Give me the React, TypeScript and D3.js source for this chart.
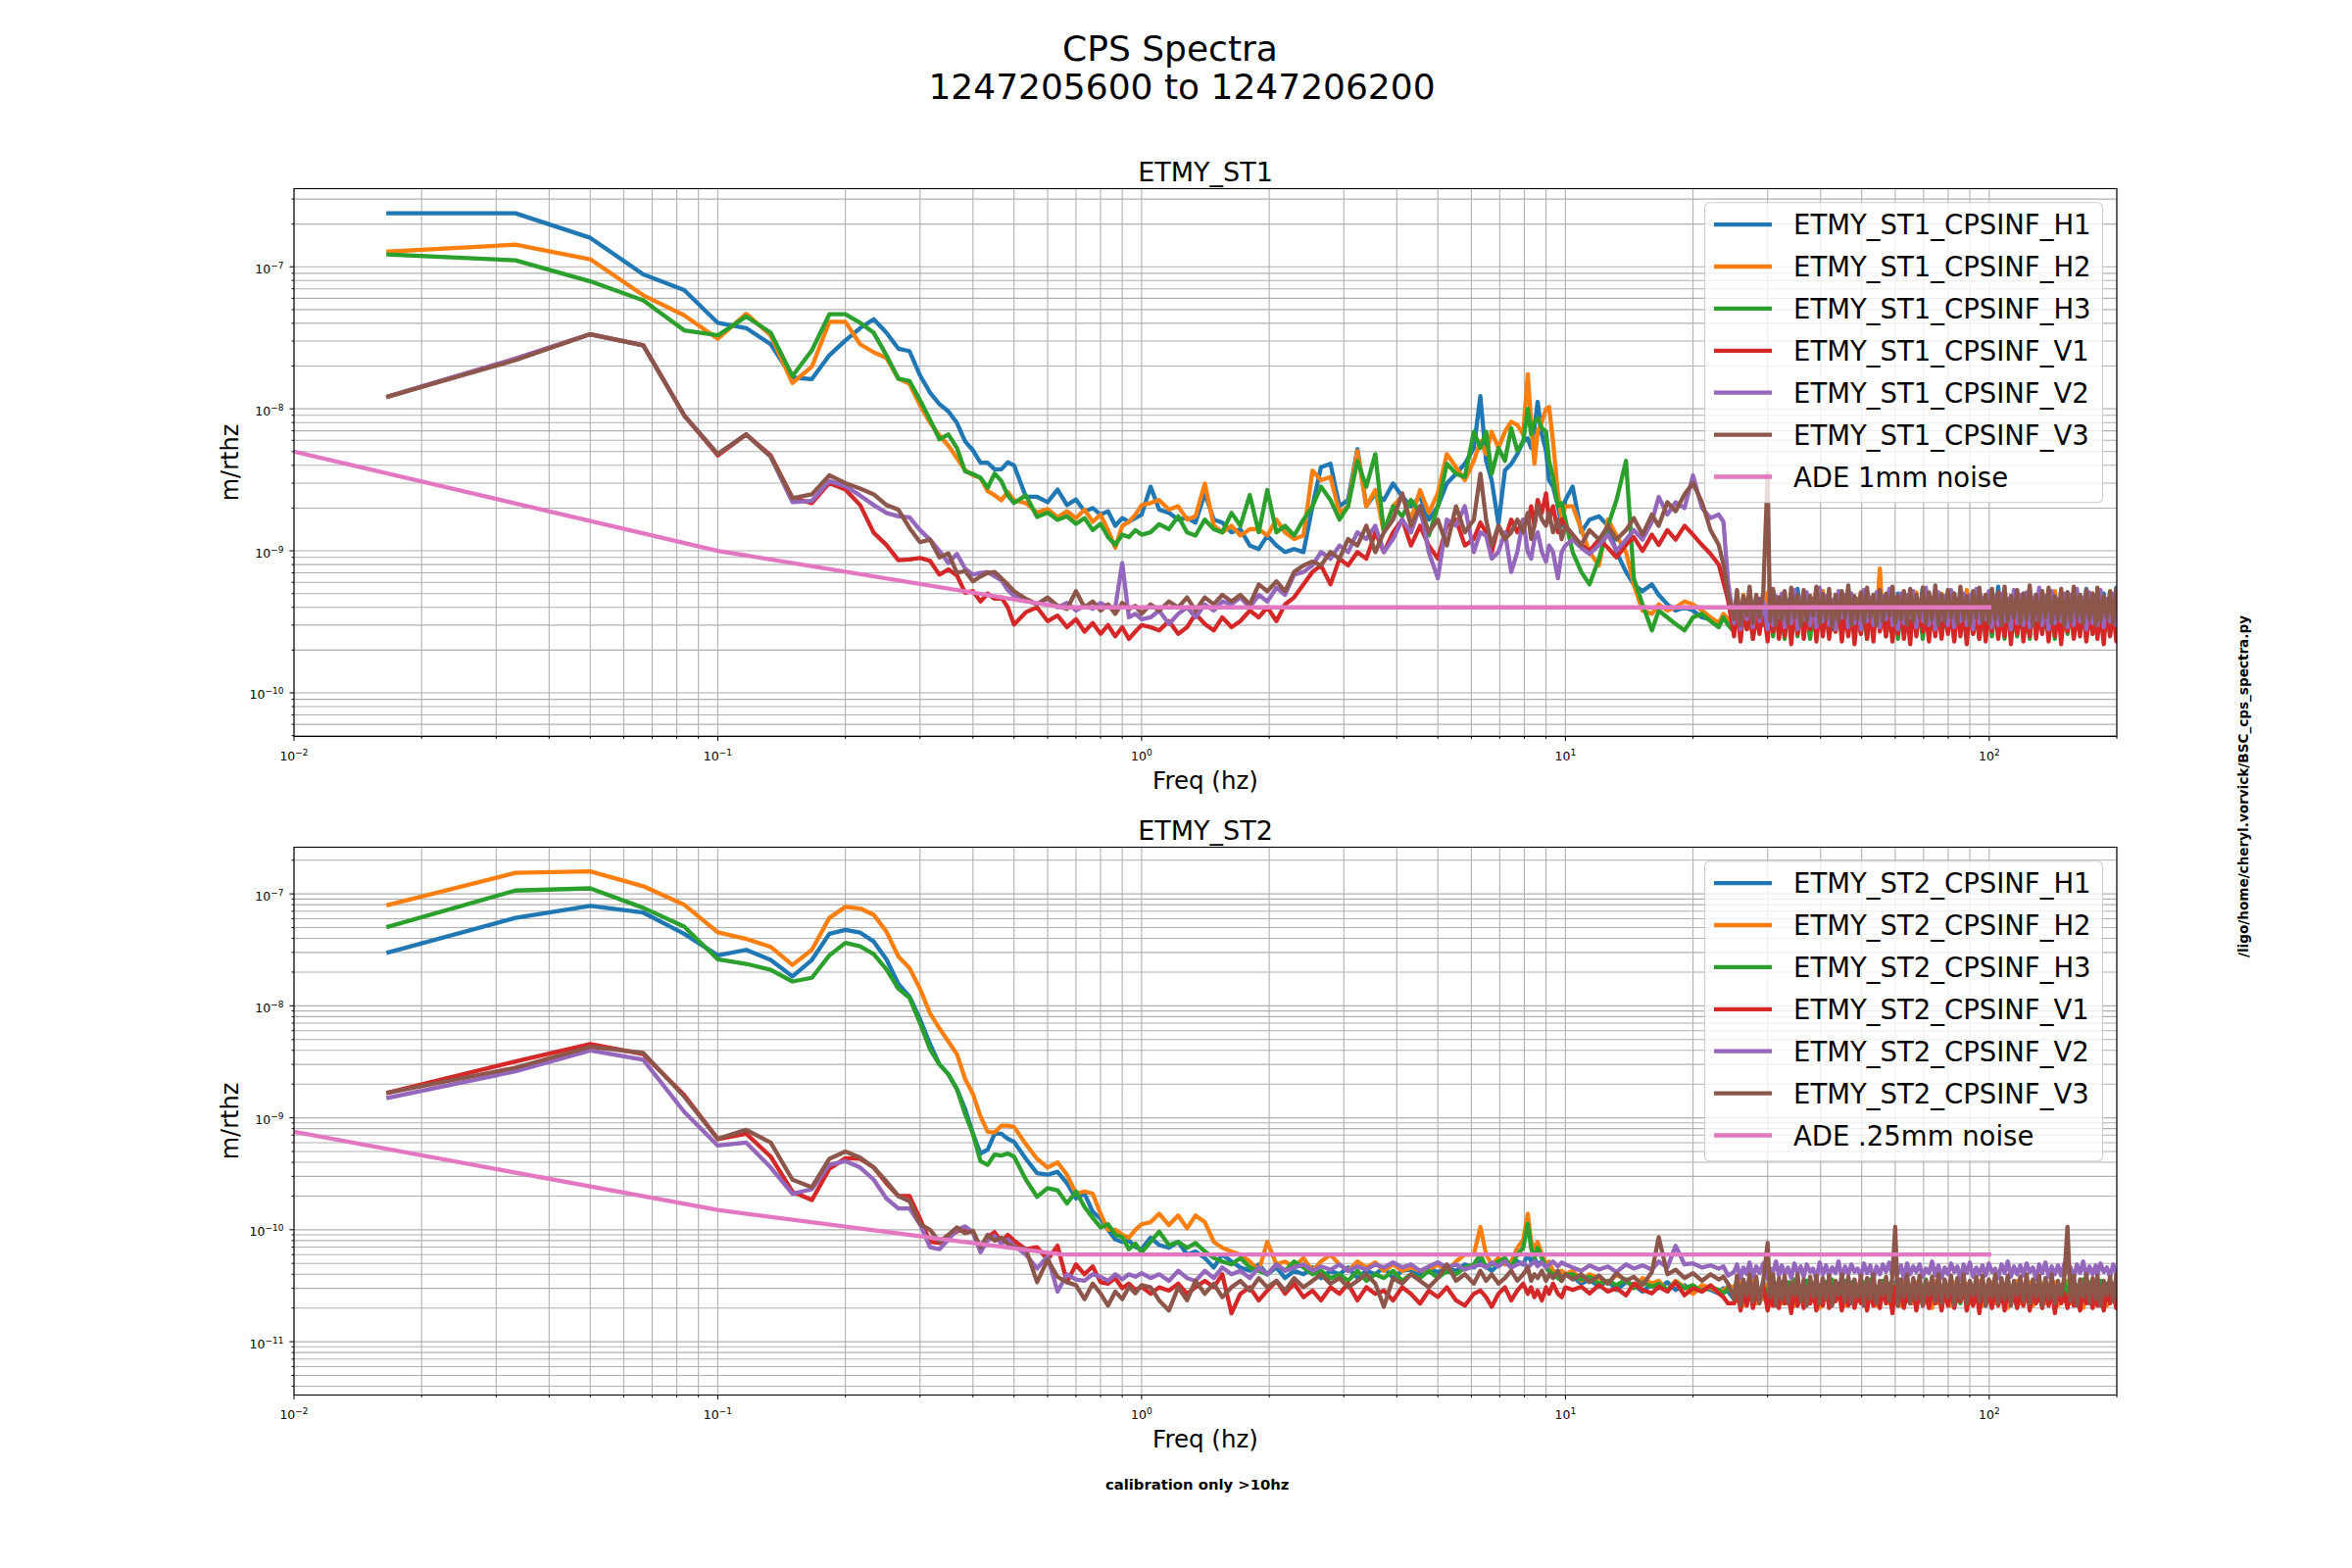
import React, { useEffect, useRef } from 'react';
import * as d3 from 'd3';

const FONT = "'DejaVu Sans', 'Liberation Sans', sans-serif";
const colors = ['#1f77b4', '#ff7f0e', '#2ca02c', '#d62728', '#9467bd', '#8c564b'];
const adeColor = '#e377c2';
const channels = ['CPSINF_H1', 'CPSINF_H2', 'CPSINF_H3', 'CPSINF_V1', 'CPSINF_V2', 'CPSINF_V3'];

// frequency bins (Hz)
const freqLow = [0.0167, 0.0333, 0.05, 0.0667, 0.0833, 0.1, 0.1167, 0.1333, 0.15, 0.1667, 0.1833, 0.2, 0.2167, 0.2333, 0.25,
  0.2667, 0.2833, 0.3, 0.3167, 0.3333, 0.35, 0.3667, 0.3833, 0.4, 0.4167, 0.4333, 0.45, 0.4667, 0.4833, 0.5];
const freqMid = [0.5333, 0.5667, 0.6, 0.6333, 0.6667, 0.7, 0.7333, 0.7667, 0.8, 0.8333, 0.8667, 0.9, 0.9333, 0.9667, 1.0];
const freqBand = [1.05, 1.1, 1.16, 1.22, 1.28, 1.34, 1.41, 1.48, 1.55, 1.63, 1.71, 1.8, 1.89, 1.98, 2.08, 2.18, 2.29, 2.41,
  2.53, 2.65, 2.79, 2.93, 3.07, 3.23, 3.39, 3.56, 3.73, 3.92, 4.12, 4.32, 4.54, 4.76, 5.0, 5.25, 5.52, 5.79, 6.08, 6.3, 6.5,
  6.7, 6.95, 7.2, 7.45, 7.7, 7.95, 8.15, 8.3, 8.45, 8.6, 8.8, 9.0, 9.15, 9.35, 9.6, 9.8, 10.0,
  10.4, 10.9, 11.4, 12.0, 12.6, 13.2, 13.9, 14.5, 15.2, 16.0, 16.6, 17.4, 18.2, 19.1, 20.0, 21.0, 22.0, 23.0, 23.6, 24.2];
const freqHigh = [
  25, 25.4, 25.9, 26.3, 26.8, 27.2, 27.7, 28.2, 28.7, 29.3, 30, 30.4, 30.9, 31.4, 31.9, 32.4, 32.9, 33.5, 34.1, 34.7,
  35.3, 35.9, 36.5, 37.1, 37.8, 38.4, 39.1, 39.8, 40.5, 41.2, 41.9, 42.6, 43.4, 44.1, 44.9, 45.7, 46.5, 47.3, 48.1, 48.9,
  49.8, 50.6, 51.5, 52.4, 53.3, 54.2, 55.2, 56.1, 57.1, 58.1, 59.1, 60, 60.9, 61.9, 62.9, 64.0, 65.1, 66.2, 67.3, 68.5,
  69.7, 70.9, 72.1, 73.3, 74.6, 75.9, 77.2, 78.5, 79.9, 81.3, 82.7, 84.1, 85.5, 87.0, 88.5, 90.0, 91.6, 93.2, 94.8, 96.4,
  98.1, 99.8, 101.5, 103.3, 105.0, 106.9, 108.7, 110.6, 112.5, 114.4, 116.4, 118.4, 120.4, 122.5, 124.6, 126.8, 129.0,
  131.2, 133.4, 135.7, 138.1, 140.4, 142.9, 145.3, 147.8, 150.4, 153.0, 155.6, 158.3, 161.0, 163.8, 166.6, 169.5, 172.4,
  175.4, 178.4, 180, 183.1, 186.3, 189.5, 192.8, 196.1, 199.5, 203];
const freqs = [...freqLow, ...freqMid, ...freqBand, ...freqHigh];

// ETMY_ST1 spectra, units of 1e-10 m/rthz
const st1H1 = [
  2380, 2380, 1600, 885, 685, 403, 370, 285, 166, 162, 238, 303, 370, 427, 343, 265, 255, 172, 130, 108, 96, 79.5, 59, 51, 41.7, 41.7, 37.5, 37.5, 42, 40,
  24, 24, 22, 27, 21, 23, 19, 20, 18, 19, 15, 17, 16, 17, 18,
  28.3, 19.5, 18.5, 16.6, 17.1, 15.8, 25.4, 16.6, 15.8, 13.5, 14.2, 10.9, 10.3, 12.8, 10.9, 9.8, 10.3, 9.8, 20.6, 38.8,
  41, 20.6, 22.8, 52, 20.6, 25.4, 22.8, 29.8, 24.1, 20.6, 24.1, 16.6, 20.6, 29.8, 34.9, 41, 53, 123, 43, 31.4,
  15.4, 36.8, 41, 48, 59, 62, 53, 73, 112, 66, 50.5, 31.4, 28.3, 20.6, 15, 22.8,
  28.3, 13.5, 16.6, 17.5, 15, 9.8, 7.1, 5.8, 5.2, 5.8, 4.9, 4.2, 3.8, 4.0, 3.8, 3.4, 3.3, 3.0, 3.5, 3.2,
  3.6, 4.8, 3.1, 4.2, 2.9, 5.0, 3.4, 3.9, 4.6, 3.0, 4.4, 3.3, 5.2, 2.8, 4.1, 3.7, 4.9, 3.2, 4.3, 3.0,
  5.4, 3.5, 4.0, 2.9, 4.7, 3.3, 4.2, 5.0, 3.1, 3.8, 4.5, 2.8, 4.9, 3.6, 4.1, 3.2, 5.3, 3.4, 4.4, 2.9,
  4.0, 3.5, 4.8, 3.0, 4.3, 3.8, 5.1, 3.2, 4.6, 3.0, 4.2, 3.6, 5.0, 2.9, 4.4, 3.3, 4.7, 3.1, 4.0, 3.6,
  5.5, 3.2, 4.3, 2.8, 4.8, 3.5, 4.1, 3.0, 4.6, 3.4, 5.0, 3.1, 4.2, 3.7, 4.9, 2.9, 4.4, 3.3, 5.2, 3.0,
  4.1, 3.6, 4.7, 3.2, 5.6, 3.0, 4.3, 3.4, 4.8, 3.1, 4.5, 2.9, 5.0, 3.5, 4.2, 3.2, 4.9, 3.7, 4.4, 3.0,
  5.3, 3.3, 4.1, 2.8, 4.6, 3.6, 5.1, 3.1, 4.3, 3.4, 4.8, 3.0, 5.4, 3.5, 4.2, 3.2, 4.7, 3.3, 5.0, 2.9,
  4.4, 3.6, 5.5, 3.4,
];
const st1H2 = [
  1280, 1430, 1130, 630, 455, 311, 467, 330, 152, 198, 410, 410, 285, 250, 228, 163, 150, 106, 80, 65, 55, 45, 37, 34, 32.7, 26.3, 24.6, 22.7, 26, 22.7,
  21.7, 18.6, 19.7, 17.2, 19, 17, 19.5, 16, 18, 14, 10.5, 15, 16, 18, 21,
  21.7, 22.8, 19.5, 20.6, 16.6, 17.5, 29.8, 15, 13.5, 15, 12.8, 14.2, 14.2, 12.8, 16.6, 13.5, 12.1, 12.8, 36.8, 31.4,
  33.1, 18.5, 20.6, 50.5, 20.6, 26.8, 13.5, 20.6, 24.1, 16.6, 26.8, 18.5, 25.4, 48, 38.8, 31.4, 43, 59, 48, 69,
  53, 69, 81, 77, 66, 175, 81, 41, 69, 81, 100, 103, 59, 25.4, 16.6, 20.6,
  20.6, 14.2, 9.8, 7.9, 16.6, 12.8, 9.8, 5.8, 3.8, 3.6, 4.2, 3.8, 4.0, 4.4, 4.2, 3.8, 3.4, 3.1, 3.6, 3.3,
  3.2, 4.4, 2.9, 4.9, 3.5, 4.1, 2.7, 4.6, 3.3, 3.9, 5.1, 3.0, 4.3, 2.8, 4.7, 3.4, 4.0, 3.1, 5.0, 2.9,
  4.5, 3.6, 4.2, 3.0, 4.8, 2.8, 4.1, 3.3, 5.2, 3.1, 4.4, 2.9, 4.6, 3.5, 4.0, 3.2, 4.9, 2.8, 4.3, 3.4,
  5.0, 3.0, 4.2, 2.9, 4.6, 3.3, 7.5, 3.1, 4.4, 2.8, 4.1, 3.5, 4.8, 3.0, 4.5, 3.2, 4.0, 2.9, 5.1, 3.4,
  4.3, 3.0, 4.7, 2.8, 4.2, 3.6, 5.0, 3.1, 4.4, 2.9, 4.8, 3.3, 4.1, 3.0, 5.3, 2.8, 4.5, 3.4, 4.2, 3.1,
  4.9, 2.9, 4.3, 3.5, 4.6, 3.0, 5.1, 3.2, 4.0, 2.8, 4.7, 3.3, 4.4, 3.0, 5.0, 3.4, 4.2, 2.9, 4.8, 3.1,
  4.3, 3.6, 5.2, 3.0, 4.5, 2.8, 4.1, 3.3, 4.9, 3.1, 4.6, 2.9, 4.4, 3.5, 5.0, 3.0, 4.2, 3.2, 4.7, 2.8,
  4.5, 3.3, 4.9, 3.1,
];
const st1H3 = [
  1220, 1110, 790, 580, 357, 329, 447, 343, 170, 258, 463, 463, 403, 343, 238, 163, 157, 115, 84, 61, 66, 53, 36.3, 34.7, 32.7, 27.8, 35, 31, 24.6, 21.7,
  24.6, 17.3, 18.6, 16.5, 17.5, 15.5, 17, 14, 15.5, 12.5, 11, 13, 12.5, 14, 13,
  13.5, 15.4, 14.2, 17.5, 13.5, 12.8, 16.6, 14.2, 13.5, 18.5, 15, 24.7, 13.5, 26.8, 13.5, 15, 12.8, 16.6, 20.6, 28.3,
  22.8, 16.6, 20.6, 43, 28.3, 48, 13.5, 20.6, 17.5, 22.8, 18.5, 12.8, 20.6, 41, 34.9, 33.1, 69, 53, 69, 34.9,
  53, 43, 73, 50.5, 59, 100, 66, 81, 86, 73, 69, 43, 33.1, 20.6, 21.7, 16.6,
  9.8, 7.1, 5.8, 8.8, 15, 22.8, 43, 6.4, 4.2, 2.75, 3.8, 3.4, 3.05, 2.75, 3.4, 3.6, 3.2, 2.9, 3.4, 3.0,
  2.7, 3.9, 2.5, 4.2, 2.8, 3.6, 2.4, 4.0, 3.0, 3.5, 2.6, 4.3, 2.5, 3.8, 2.9, 4.1, 2.4, 3.7, 2.7, 4.4,
  2.5, 3.9, 2.8, 3.5, 2.4, 4.2, 2.6, 3.8, 3.0, 4.0, 2.5, 3.6, 2.7, 4.3, 2.4, 3.9, 2.8, 3.7, 2.5, 4.1,
  2.6, 3.8, 2.4, 4.4, 2.7, 3.6, 2.9, 4.0, 2.5, 3.7, 2.6, 4.2, 2.4, 3.9, 2.8, 3.5, 2.5, 4.1, 2.7, 3.8,
  2.4, 4.3, 2.6, 3.7, 2.9, 4.0, 2.5, 3.6, 2.7, 4.2, 2.4, 3.9, 2.8, 3.8, 2.5, 4.4, 2.6, 3.6, 2.4, 4.0,
  2.7, 3.7, 2.5, 4.1, 2.9, 3.8, 2.4, 4.2, 2.6, 3.5, 2.5, 4.0, 2.8, 3.9, 2.4, 4.3, 2.6, 3.7, 2.7, 4.1,
  2.5, 3.6, 2.4, 4.2, 2.8, 3.9, 2.6, 3.8, 2.5, 4.4, 2.7, 3.6, 2.4, 4.0, 2.6, 3.8, 2.9, 4.1, 2.5, 3.7,
  2.6, 4.2, 2.4, 3.9,
];
const st1V1 = [
  122, 225, 335, 280, 90, 47, 66, 47, 23.6, 21.7, 30, 27, 21, 13.4, 11, 8.6, 8.7, 8.9, 8.5, 6.8, 7.4, 6.7, 5.06, 5.2, 4.4, 5.0, 4.6, 4.7, 4.0, 3.03,
  3.7, 4.0, 3.2, 3.5, 2.9, 3.3, 2.7, 3.1, 2.6, 3.0, 2.5, 2.9, 2.4, 2.7, 3.0,
  2.9, 2.75, 3.2, 2.6, 2.9, 3.6, 3.05, 2.75, 3.4, 2.9, 3.2, 3.8, 3.4, 4.0, 3.2, 4.2, 4.7, 5.8, 7.1, 7.9,
  5.8, 8.8, 7.9, 9.8, 8.8, 13.5, 9.8, 13.5, 16.6, 10.9, 15, 10.9, 8.8, 15, 16.6, 10.9, 12.1, 15.8, 13.5, 9.8,
  15, 12.1, 16.6, 13.5, 16.6, 15.8, 20.6, 15, 22.8, 18.5, 25.4, 16.6, 20.6, 13.5, 16.6, 15,
  13, 11, 10, 12, 10.5, 9, 11, 12.5, 10, 13, 11, 14, 12, 15, 13, 11, 9.5, 8, 6, 4.5,
  2.5, 4.0, 2.3, 3.7, 2.8, 4.3, 2.4, 3.5, 2.6, 4.1, 2.3, 3.9, 2.7, 4.4, 2.4, 3.6, 2.5, 4.2, 2.2, 3.8,
  2.6, 4.0, 2.4, 3.7, 2.8, 4.5, 2.3, 3.9, 2.5, 4.1, 2.4, 3.6, 2.7, 4.3, 2.3, 3.8, 2.5, 4.0, 2.2, 3.7,
  2.6, 4.2, 2.4, 3.9, 2.3, 4.4, 2.7, 3.6, 2.5, 4.0, 2.3, 3.8, 2.6, 4.1, 2.4, 3.7, 2.2, 4.3, 2.5, 3.9,
  2.7, 3.6, 2.3, 4.2, 2.5, 3.8, 2.4, 4.0, 2.6, 3.7, 2.3, 4.4, 2.5, 3.9, 2.2, 4.1, 2.6, 3.6, 2.4, 4.2,
  2.3, 3.8, 2.7, 4.0, 2.4, 3.7, 2.5, 4.3, 2.2, 3.9, 2.6, 4.1, 2.3, 3.6, 2.5, 4.4, 2.4, 3.8, 2.6, 4.0,
  2.3, 3.7, 2.5, 4.2, 2.2, 3.9, 2.7, 4.1, 2.4, 3.6, 2.5, 4.3, 2.3, 3.8, 2.6, 4.0, 2.4, 3.7, 2.2, 4.2,
  2.5, 3.9, 2.3, 3.6,
];
const st1V2 = [
  122, 225, 335, 280, 90, 48, 66, 46, 22, 22.5, 31, 28.5, 24.5, 21, 18.5, 17.5, 17.2, 14, 12, 10, 8.2, 9.5, 7.5, 6.8, 7.0, 7.1, 6.6, 6.2, 5.3, 4.8,
  4.5, 4.2, 4.6, 4.0, 4.3, 3.8, 4.1, 3.9, 4.3, 4.0, 4.0, 8.2, 3.4, 3.6, 3.3,
  3.4, 3.8, 3.05, 3.6, 4.0, 3.4, 4.2, 3.8, 4.4, 4.2, 4.7, 4.0, 4.9, 4.4, 5.5, 4.9, 6.8, 7.1, 7.9, 9.8,
  8.8, 10.9, 9.8, 13.5, 12.1, 15, 9.8, 12.1, 16.6, 13.5, 20.6, 9.8, 6.4, 16.6, 15, 20.6, 9.8, 13.5, 12.8, 8.8,
  9.8, 13.5, 7.1, 9.8, 16.6, 9.8, 8.8, 12.1, 13.5, 9.8, 8.4, 10.9, 9.8, 6.4, 9.8, 10.9,
  12, 10.5, 9.5, 11, 13, 10, 12, 14, 12, 16, 24, 18, 22, 20, 34, 20, 17, 18, 16, 6,
  3.1, 5.0, 2.8, 4.6, 3.3, 5.4, 2.9, 4.7, 3.2, 4.4, 2.8, 5.2, 3.0, 4.8, 3.4, 5.0, 2.9, 4.5, 3.1, 5.3,
  2.8, 4.7, 3.3, 5.1, 3.0, 4.6, 2.9, 5.5, 3.2, 4.8, 3.0, 4.5, 2.8, 5.2, 3.4, 4.9, 2.9, 5.0, 3.1, 4.6,
  2.8, 5.3, 3.2, 4.7, 3.0, 5.1, 2.9, 4.8, 3.3, 5.4, 3.0, 4.6, 2.8, 5.0, 3.1, 4.9, 3.4, 5.2, 2.9, 4.5,
  3.2, 5.5, 3.0, 4.7, 2.8, 5.1, 3.3, 4.8, 3.0, 5.3, 2.9, 4.6, 3.2, 5.0, 3.0, 4.9, 2.8, 5.4, 3.1, 4.7,
  3.3, 5.2, 2.9, 4.8, 3.0, 5.0, 3.2, 4.6, 2.8, 5.3, 3.1, 4.9, 3.0, 5.1, 2.9, 4.7, 3.3, 5.5, 3.0, 4.8,
  2.8, 5.2, 3.1, 4.6, 3.2, 5.0, 2.9, 4.9, 3.0, 5.4, 3.2, 4.7, 2.8, 5.1, 3.1, 4.8, 3.0, 5.3, 2.9, 4.6,
  3.2, 5.0, 3.0, 5.2,
];
const st1V3 = [
  122, 220, 335, 280, 90, 48, 66, 46, 23.5, 25, 34, 30, 27.5, 25, 21, 19.5, 14.5, 11.5, 12, 9.0, 9.6, 7.0, 7.2, 6.1, 6.6, 7.0, 7.1, 6.4, 5.8, 5.2,
  4.6, 4.2, 4.7, 4.1, 3.9, 5.2, 4.0, 4.4, 3.8, 4.2, 3.6, 4.3, 3.9, 4.1, 3.6,
  4.2, 3.8, 4.4, 4.0, 4.7, 3.8, 4.7, 4.2, 4.9, 4.4, 4.9, 4.2, 5.8, 5.2, 6.1, 5.2, 7.1, 7.9, 8.4, 7.9,
  9.8, 8.8, 12.1, 10.9, 15, 9.8, 13.5, 16.6, 25.4, 15, 20.6, 13.5, 16.6, 10.9, 20.6, 13.5, 16.6, 34.9, 16.6, 10.9,
  15, 12.1, 13.5, 16.6, 13.5, 18.5, 12.1, 15, 20.6, 16.6, 15, 18.5, 13.5, 16.6, 12.1, 15,
  13, 11, 14, 12, 15, 12, 14, 17, 13, 18, 15, 22, 19, 25, 30, 22, 14, 11, 8, 5,
  3.3, 5.3, 3.0, 4.8, 3.5, 5.6, 3.1, 4.9, 3.4, 5.1, 35, 3.2, 5.4, 3.0, 4.7, 3.3, 5.2, 3.1, 5.5, 3.4,
  4.9, 3.0, 5.3, 3.2, 4.8, 3.5, 5.6, 3.1, 5.0, 3.3, 5.4, 2.9, 4.9, 3.2, 5.2, 3.4, 5.7, 3.0, 4.8, 3.3,
  5.1, 3.1, 5.5, 3.4, 4.9, 3.0, 5.3, 3.2, 5.0, 3.5, 5.6, 3.1, 4.8, 3.3, 5.2, 3.0, 5.4, 3.2, 4.9, 3.4,
  5.5, 3.1, 5.1, 3.3, 5.7, 3.0, 4.9, 3.2, 5.3, 3.4, 5.0, 3.1, 5.6, 3.3, 4.8, 3.0, 5.2, 3.4, 5.5, 3.2,
  4.9, 3.1, 5.4, 3.3, 5.1, 3.0, 5.6, 3.2, 4.8, 3.4, 5.3, 3.1, 5.0, 3.3, 5.7, 3.0, 4.9, 3.2, 5.2, 3.4,
  5.5, 3.1, 4.8, 3.3, 5.4, 3.0, 5.1, 3.2, 5.6, 3.4, 4.9, 3.1, 5.3, 3.3, 5.0, 3.0, 5.5, 3.2, 4.8, 3.4,
  5.2, 3.1, 5.4, 3.3,
];

// ETMY_ST2 spectra, units of 1e-11 m/rthz
const st2H1 = [
  3000, 6100, 7800, 6800, 4400, 2820, 3160, 2570, 1830, 2570, 4400, 4770, 4500, 3760, 2600, 1570, 1210, 760, 457, 300, 245, 180, 120, 72, 48, 52, 72, 72, 65, 61,
  43, 32, 31, 33, 26, 19, 21, 14.5, 12.5, 10, 8.2, 7.8, 8.0, 7.0, 6.7,
  8.5, 7.3, 6.9, 7.8, 6.0, 6.4, 5.6, 4.6, 6.0, 5.2, 4.6, 4.3, 4.9, 4.0, 4.6, 3.7, 4.3, 4.0, 4.6, 3.7,
  4.3, 4.0, 4.6, 3.7, 4.3, 4.0, 4.6, 3.7, 4.3, 4.4, 4.0, 4.6, 4.15, 4.6, 4.3, 4.9, 4.6, 5.2, 4.7, 4.3,
  4.9, 5.2, 4.6, 5.2, 4.9, 6.0, 5.2, 5.6, 4.9, 5.2, 4.6, 4.3, 4.0, 4.3, 3.7, 4.0,
  3.8, 3.3, 3.6, 3.1, 3.5, 2.9, 3.4, 3.2, 2.8, 3.3, 3.0, 3.4, 2.9, 3.2, 2.7, 3.1, 2.9, 2.7, 3.0, 2.8,
  2.4, 3.3, 2.2, 3.0, 2.6, 3.4, 2.3, 3.1, 2.5, 3.5, 2.2, 3.2, 2.4, 2.9, 2.7, 3.4, 2.3, 3.1, 2.5, 3.3,
  2.1, 3.0, 2.6, 3.5, 2.4, 3.2, 2.2, 3.1, 2.5, 3.4, 2.3, 3.0, 2.6, 3.3, 2.4, 2.9, 2.2, 3.4, 2.5, 3.1,
  2.3, 3.2, 2.6, 3.5, 2.2, 3.0, 2.4, 3.3, 2.5, 3.1, 2.2, 3.4, 2.3, 3.2, 2.6, 3.0, 2.4, 3.3, 2.1, 3.1,
  2.5, 3.4, 2.3, 3.0, 2.6, 3.2, 2.2, 3.5, 2.4, 3.1, 2.3, 3.3, 2.5, 2.9, 2.2, 3.4, 2.6, 3.1, 2.4, 3.2,
  2.1, 3.0, 2.5, 3.5, 2.3, 3.3, 2.4, 3.1, 2.6, 3.0, 2.2, 3.4, 2.5, 3.2, 2.3, 3.0, 2.4, 3.3, 2.2, 3.1,
  2.6, 3.5, 2.3, 3.2, 2.5, 3.0, 2.2, 3.4, 2.4, 3.1, 2.3, 3.3, 2.6, 3.0, 2.4, 3.2, 2.2, 3.4, 2.5, 3.1,
  2.3, 3.3, 2.4, 3.0,
];
const st2H2 = [
  7970, 15400, 15900, 11700, 8000, 4530, 3960, 3360, 2320, 3160, 6100, 7650, 7400, 6500, 4600, 2760, 2180, 1420, 860, 630, 480, 370, 222, 163, 103, 75, 74, 85, 85, 83,
  58, 43, 36, 40, 31, 21, 22, 21, 13.9, 10, 10, 9, 8.5, 10, 11.2,
  11.7, 13.9, 11.0, 13.4, 10.3, 13.4, 11.7, 7.8, 6.9, 6.4, 6.0, 5.2, 4.3, 7.8, 4.9, 5.2, 4.6, 5.6, 4.3, 5.2,
  6.0, 4.9, 4.3, 5.2, 4.6, 5.1, 4.3, 4.9, 4.3, 4.6, 4.3, 4.4, 4.9, 4.3, 5.2, 6.0, 6.0, 10.6, 6.0, 4.9,
  5.6, 4.9, 5.2, 6.9, 8.1, 13.9, 7.8, 6.9, 7.8, 6.0, 4.9, 5.2, 4.3, 4.0, 4.3, 4.0,
  4.3, 3.5, 4.0, 3.7, 3.3, 4.0, 3.5, 3.06, 3.7, 3.3, 3.5, 2.86, 3.5, 3.06, 2.68, 3.2, 3.0, 2.8, 2.9, 3.1,
  3.1, 2.3, 3.4, 2.1, 3.2, 2.5, 3.5, 2.2, 3.0, 2.4, 3.3, 2.1, 3.4, 2.3, 3.1, 2.2, 3.5, 2.4, 3.0, 2.1,
  3.3, 2.5, 3.2, 2.2, 3.4, 2.3, 3.1, 2.0, 3.5, 2.4, 3.2, 2.2, 3.0, 2.5, 3.4, 2.1, 3.3, 2.3, 3.1, 2.4,
  3.5, 2.2, 3.0, 2.3, 3.4, 2.1, 3.2, 2.5, 3.1, 2.2, 3.3, 2.4, 3.0, 2.1, 3.5, 2.3, 3.2, 2.2, 3.4, 2.4,
  3.1, 2.3, 3.3, 2.0, 3.5, 2.2, 3.0, 2.4, 3.2, 2.1, 3.4, 2.3, 3.1, 2.5, 3.3, 2.2, 3.0, 2.4, 3.5, 2.1,
  3.2, 2.3, 3.4, 2.2, 3.1, 2.5, 3.3, 2.0, 3.0, 2.4, 3.5, 2.2, 3.2, 2.3, 3.4, 2.1, 3.1, 2.4, 3.3, 2.2,
  3.0, 2.5, 3.4, 2.1, 3.2, 2.3, 3.5, 2.2, 3.1, 2.4, 3.3, 2.0, 3.0, 2.3, 3.4, 2.2, 3.2, 2.5, 3.1, 2.1,
  3.3, 2.3, 3.4, 2.2,
];
const st2H3 = [
  5100, 10700, 11200, 7500, 5100, 2600, 2370, 2100, 1650, 1780, 2820, 3650, 3400, 2900, 2120, 1420, 1180, 700, 410, 300, 245, 180, 108, 72, 41, 38, 47, 46, 48, 45,
  28, 19.7, 23.5, 22.5, 17.2, 22, 16, 12.8, 10.5, 11.2, 9, 8.6, 6.7, 7.5, 6.3,
  7.8, 9.6, 7.3, 7.8, 6.9, 7.6, 6.4, 5.6, 5.2, 4.9, 5.6, 4.6, 4.3, 4.0, 4.9, 4.3, 5.2, 4.6, 4.0, 4.3,
  3.7, 4.0, 3.5, 4.3, 3.5, 4.0, 3.7, 4.3, 3.5, 4.0, 3.7, 4.3, 3.7, 4.3, 4.0, 4.6, 4.9, 6.0, 4.6, 4.9,
  5.2, 5.6, 4.6, 6.0, 6.9, 11.3, 6.9, 5.6, 6.9, 5.6, 4.6, 4.3, 4.0, 3.7, 3.5, 4.0,
  4.0, 3.6, 3.8, 3.3, 3.5, 3.2, 3.6, 3.0, 3.4, 3.1, 3.3, 2.9, 3.4, 3.0, 3.2, 2.8, 3.1, 2.9, 2.7, 3.0,
  2.6, 3.6, 2.3, 3.2, 2.5, 3.4, 2.2, 3.5, 2.4, 3.1, 2.6, 3.6, 2.3, 3.3, 2.5, 3.2, 2.2, 3.4, 2.4, 3.6,
  2.3, 3.1, 2.5, 3.5, 2.2, 3.3, 2.6, 3.2, 2.4, 3.4, 2.3, 3.6, 2.5, 3.1, 2.2, 3.5, 2.4, 3.3, 2.6, 3.2,
  2.3, 3.4, 2.5, 3.6, 2.2, 3.1, 2.4, 3.5, 2.3, 3.3, 2.5, 3.2, 2.2, 3.4, 2.6, 3.1, 2.4, 3.5, 2.3, 3.3,
  2.5, 3.6, 2.2, 3.2, 2.4, 3.4, 2.6, 3.1, 2.3, 3.5, 2.5, 3.3, 2.2, 3.6, 2.4, 3.2, 2.3, 3.4, 2.6, 3.1,
  2.4, 3.5, 2.2, 3.3, 2.5, 3.2, 2.3, 3.6, 2.4, 3.4, 2.6, 3.1, 2.2, 3.5, 2.5, 3.3, 2.3, 3.2, 2.4, 3.6,
  2.2, 3.4, 2.5, 3.1, 2.3, 3.5, 2.6, 3.3, 2.4, 3.2, 2.3, 3.6, 2.5, 3.4, 2.2, 3.1, 2.4, 3.5, 2.6, 3.3,
  2.3, 3.2, 2.5, 3.4,
];
const st2V1 = [
  168, 318, 456, 370, 160, 64.5, 72, 45, 21.9, 18.4, 35, 43.5, 43, 36, 26, 20, 20, 12.5, 7.8, 7.6, 8.6, 9.7, 10, 9.5, 6.7, 8.6, 9.5, 7.8, 9.0, 8.0,
  6.7, 7.0, 5.4, 7.2, 3.4, 4.9, 4.0, 4.7, 3.4, 3.3, 3.7, 3.0, 3.3, 2.9, 3.1,
  2.68, 3.06, 2.86, 3.3, 2.68, 3.06, 3.5, 3.06, 4.0, 1.79, 2.68, 3.06, 2.34, 2.86, 3.5, 2.68, 3.3, 2.5, 2.86, 2.34,
  3.06, 2.68, 3.3, 2.34, 3.06, 2.68, 2.86, 2.34, 3.06, 2.68, 2.19, 2.86, 2.5, 3.06, 2.34, 2.1, 2.68, 2.86, 2.5, 2.05,
  2.68, 3.06, 2.34, 2.86, 3.3, 2.68, 3.06, 2.5, 2.86, 2.34, 3.06, 2.68, 3.3, 2.68, 2.5, 3.06,
  2.9, 3.1, 2.7, 3.2, 2.8, 3.0, 2.6, 3.3, 2.9, 2.7, 3.1, 2.8, 3.4, 2.6, 3.0, 2.8, 3.2, 2.7, 2.5, 2.2,
  2.2, 3.0, 1.9, 2.8, 2.1, 3.1, 2.0, 2.7, 2.3, 3.2, 1.9, 2.9, 2.1, 2.6, 2.0, 3.0, 2.2, 2.8, 1.8, 3.1,
  2.1, 2.7, 2.0, 2.9, 2.2, 3.0, 1.9, 2.8, 2.1, 3.2, 2.0, 2.7, 2.3, 2.9, 1.9, 3.0, 2.1, 2.8, 2.0, 2.6,
  2.2, 3.1, 1.9, 2.9, 2.1, 2.7, 2.0, 3.0, 2.2, 2.8, 1.8, 3.1, 2.1, 2.9, 2.0, 2.7, 2.2, 3.0, 1.9, 2.8,
  2.1, 2.6, 2.0, 3.1, 2.2, 2.8, 1.9, 2.9, 2.1, 3.0, 2.0, 2.7, 2.3, 3.2, 1.9, 2.8, 2.1, 2.9, 1.8, 3.0,
  2.2, 2.7, 2.0, 3.1, 2.1, 2.8, 1.9, 3.0, 2.2, 2.6, 2.0, 2.9, 2.1, 3.2, 1.9, 2.8, 2.2, 2.7, 2.0, 3.0,
  2.1, 2.9, 1.8, 3.1, 2.2, 2.7, 2.0, 2.8, 2.1, 3.0, 1.9, 2.9, 2.2, 2.6, 2.0, 3.1, 2.1, 2.8, 1.9, 3.0,
  2.2, 2.7, 2.0, 2.9,
];
const st2V2 = [
  151, 260, 400, 330, 113, 56.5, 60, 36, 21, 23, 38, 41, 36, 28, 19, 15.5, 15.5, 11.2, 7.0, 6.7, 8.2, 10, 10.7, 9.5, 6.3, 8.0, 8.8, 7.5, 8.2, 7.2,
  6.0, 4.5, 5.8, 2.8, 4.0, 3.6, 3.5, 4.0, 3.8, 3.5, 4.0, 3.6, 4.0, 3.8, 4.1,
  3.7, 4.0, 3.5, 4.3, 3.7, 3.5, 4.3, 3.7, 4.6, 4.0, 4.3, 3.7, 4.6, 4.0, 4.9, 4.3, 4.6, 4.9, 4.3, 4.7,
  4.4, 4.9, 4.3, 4.7, 4.4, 4.9, 4.6, 5.1, 4.6, 4.9, 4.3, 4.7, 5.1, 4.6, 4.9, 4.4, 4.7, 4.9, 4.6, 5.1,
  4.7, 5.2, 4.6, 4.9, 5.1, 4.6, 4.9, 5.2, 4.7, 5.1, 4.6, 4.9, 5.2, 4.7, 5.1, 4.9,
  4.6, 4.3, 4.8, 4.4, 4.7, 4.2, 4.9, 4.5, 4.8, 4.4, 5.2, 4.6, 7.2, 4.9, 5.0, 4.6, 4.8, 4.5, 4.7, 3.9,
  4.2, 4.9, 3.7, 4.6, 4.0, 5.1, 3.8, 4.7, 4.1, 5.0, 3.6, 4.5, 4.2, 5.2, 3.9, 4.8, 4.0, 4.6, 3.7, 5.0,
  4.1, 4.7, 3.8, 4.9, 4.2, 4.5, 3.6, 5.1, 4.0, 4.8, 3.9, 4.6, 4.1, 5.2, 3.7, 4.7, 4.0, 4.9, 4.2, 4.5,
  3.8, 5.0, 4.1, 4.8, 3.6, 4.7, 4.0, 4.9, 4.2, 5.1, 3.9, 4.6, 4.1, 4.8, 3.7, 5.0, 4.0, 4.7, 4.2, 4.9,
  3.8, 4.5, 4.1, 5.2, 3.9, 4.8, 3.7, 4.6, 4.0, 5.0, 4.2, 4.7, 3.6, 4.9, 4.1, 5.1, 3.8, 4.6, 4.0, 4.8,
  3.9, 5.0, 4.2, 4.5, 3.7, 4.9, 4.1, 5.2, 3.8, 4.7, 4.0, 4.8, 3.9, 5.0, 4.2, 4.6, 3.6, 4.9, 4.1, 5.1,
  3.8, 4.7, 4.0, 4.8, 3.9, 5.0, 4.2, 4.6, 3.7, 4.9, 4.1, 5.2, 3.8, 4.7, 4.0, 4.8, 3.9, 5.0, 4.2, 4.6,
  3.8, 4.9, 4.1, 4.7,
];
const st2V3 = [
  168, 280, 430, 380, 155, 65, 78, 60, 28, 24, 43, 50, 44, 36, 27, 20, 18, 11.2, 10, 7.8, 9.0, 10.5, 9.3, 9.8, 7.0, 9.0, 8.0, 8.5, 7.5, 7.0,
  6.7, 3.4, 5.4, 3.8, 3.4, 3.2, 2.4, 3.3, 2.7, 2.1, 2.8, 2.4, 3.1, 2.7, 3.2,
  3.06, 2.34, 1.9, 3.06, 2.34, 3.5, 2.68, 3.3, 2.5, 3.06, 3.5, 2.86, 3.7, 3.06, 3.5, 2.86, 3.7, 3.06, 3.5, 4.0,
  3.3, 3.7, 3.06, 3.5, 4.0, 3.3, 2.05, 3.7, 3.3, 4.0, 3.5, 3.06, 3.7, 4.9, 3.5, 4.0, 3.3, 4.3, 3.5, 4.0,
  3.3, 3.7, 4.3, 3.5, 4.0, 4.6, 3.5, 4.0, 3.7, 4.3, 3.5, 4.0, 3.7, 4.3, 3.5, 4.0,
  3.6, 4.0, 3.4, 3.9, 3.3, 4.1, 3.5, 3.8, 3.2, 4.2, 8.6, 4.0, 4.4, 3.7, 4.1, 3.5, 4.0, 3.6, 3.8, 3.3,
  2.4, 3.9, 2.1, 3.6, 2.6, 4.0, 2.3, 3.8, 2.2, 3.5, 7.6, 2.5, 4.0, 2.1, 3.7, 2.4, 3.9, 2.2, 3.4, 2.6,
  4.0, 2.3, 3.6, 2.1, 3.8, 2.5, 3.9, 2.2, 3.7, 2.4, 3.9, 2.1, 3.5, 2.6, 4.0, 2.3, 3.8, 2.2, 3.6, 2.5,
  3.9, 2.1, 3.7, 2.4, 4.0, 2.2, 3.5, 2.6, 3.8, 2.3, 3.9, 10.6, 2.1, 3.6, 2.5, 4.0, 2.2, 3.7, 2.4, 3.9,
  2.1, 3.5, 2.6, 3.8, 2.3, 4.0, 2.2, 3.6, 2.5, 3.9, 2.1, 3.7, 2.4, 4.0, 2.2, 3.5, 2.6, 3.8, 2.3, 3.9,
  2.1, 3.6, 2.5, 4.0, 2.2, 3.7, 2.4, 3.9, 2.1, 3.5, 2.6, 3.8, 2.3, 4.0, 2.2, 3.6, 2.5, 3.9, 2.1, 3.7,
  2.4, 4.0, 2.2, 3.5, 2.6, 3.8, 10.6, 2.3, 3.9, 2.1, 3.6, 2.5, 4.0, 2.2, 3.7, 2.4, 3.9, 2.1, 3.5, 2.6,
  3.8, 2.3, 4.0, 2.2,
];

// ADE sensor noise
const adeFreqs = [0.01, 0.1, 0.65, 100];
const ade1mm = [50, 10, 4, 4];     // 1e-10 m/rthz
const ade025mm = [75, 15, 6, 6];   // 1e-11 m/rthz

const AX_LEFT = 300;
const AX_RIGHT = 2160;
const AX_H = 559;
const LINE_W = 4.3;

const panels = [
  { name: 'ETMY_ST1', unit: 1e-10, top: 192.5, yDomain: [4.93e-11, 3.55e-7],
    series: [st1H1, st1H2, st1H3, st1V1, st1V2, st1V3], ade: ade1mm, adeName: 'ADE 1mm noise' },
  { name: 'ETMY_ST2', unit: 1e-11, top: 864.5, yDomain: [3.34e-12, 2.61e-7],
    series: [st2H1, st2H2, st2H3, st2V1, st2V2, st2V3], ade: ade025mm, adeName: 'ADE .25mm noise' },
];

const App: React.FC = () => {
  const svgRef = useRef<SVGSVGElement>(null);

  useEffect(() => {
    const svg = d3.select(svgRef.current);
    svg.selectAll('*').remove();
    svg.attr('font-family', FONT);

    // figure title
    svg.append('text').attr('x', 1194).attr('y', 62).attr('text-anchor', 'middle')
      .attr('font-size', 36).text('CPS Spectra');
    svg.append('text').attr('x', 1206).attr('y', 101).attr('text-anchor', 'middle')
      .attr('font-size', 36).text('1247205600 to 1247206200');

    const isMajor = (v: number) => Math.abs(Math.log10(v) - Math.round(Math.log10(v))) < 1e-6;
    const powLabel = (sel: d3.Selection<SVGTextElement, unknown, null, undefined>, v: number) => {
      const e = Math.round(Math.log10(v));
      sel.append('tspan').text('10');
      sel.append('tspan').attr('dy', -5).attr('font-size', 9)
        .text(e < 0 ? '\u2212' + Math.abs(e) : String(e));
    };

    panels.forEach((p, pi) => {
      const bottom = p.top + AX_H;
      const x = d3.scaleLog().domain([0.01, 200]).range([AX_LEFT, AX_RIGHT]);
      const y = d3.scaleLog().domain(p.yDomain).range([bottom, p.top]);
      const g = svg.append('g');

      const clipId = `clip-${pi}`;
      g.append('clipPath').attr('id', clipId).append('rect')
        .attr('x', AX_LEFT).attr('y', p.top).attr('width', AX_RIGHT - AX_LEFT).attr('height', AX_H);

      // grid (major + minor)
      const grid = g.append('g').attr('stroke', '#b0b0b0').attr('stroke-width', 1.1);
      x.ticks().forEach(t => {
        grid.append('line').attr('x1', x(t)).attr('x2', x(t)).attr('y1', p.top).attr('y2', bottom);
      });
      y.ticks().forEach(t => {
        grid.append('line').attr('x1', AX_LEFT).attr('x2', AX_RIGHT).attr('y1', y(t)).attr('y2', y(t));
      });

      // spectra
      const plot = g.append('g').attr('clip-path', `url(#${clipId})`).attr('fill', 'none')
        .attr('stroke-width', LINE_W).attr('stroke-linejoin', 'round').attr('stroke-linecap', 'square');
      const line = d3.line<number>().x((_, i) => x(freqs[i])).y(d => y(d * p.unit));
      p.series.forEach((s, si) => {
        plot.append('path').attr('d', line(s)).attr('stroke', colors[si]);
        if (s.length !== freqs.length) {
          svg.append('text').attr('x', 20).attr('y', 1580 - 20 * (pi * 6 + si)).attr('fill', 'red')
            .attr('font-size', 14).text(`${p.name} ${si}: ${s.length} vs ${freqs.length}`);
        }
      });
      const adeLine = d3.line<number>().x((_, i) => x(adeFreqs[i])).y(d => y(d * p.unit));
      plot.append('path').attr('d', adeLine(p.ade)).attr('stroke', adeColor);

      // spines
      g.append('rect').attr('x', AX_LEFT).attr('y', p.top).attr('width', AX_RIGHT - AX_LEFT).attr('height', AX_H)
        .attr('fill', 'none').attr('stroke', '#000').attr('stroke-width', 1.1);

      // ticks and tick labels
      const ticks = g.append('g').attr('stroke', '#000').attr('stroke-width', 1);
      x.ticks().forEach(t => {
        const len = isMajor(t) ? 4.6 : 2.4;
        ticks.append('line').attr('x1', x(t)).attr('x2', x(t)).attr('y1', bottom).attr('y2', bottom + len);
        if (isMajor(t)) {
          const lab = g.append('text').attr('x', x(t)).attr('y', bottom + 24.2)
            .attr('text-anchor', 'middle').attr('font-size', 12.5);
          powLabel(lab, t);
        }
      });
      y.ticks().forEach(t => {
        const len = isMajor(t) ? 4.6 : 2.4;
        ticks.append('line').attr('x1', AX_LEFT - len).attr('x2', AX_LEFT).attr('y1', y(t)).attr('y2', y(t));
        if (isMajor(t)) {
          const lab = g.append('text').attr('x', AX_LEFT - 10.5).attr('y', y(t) + 6.5)
            .attr('text-anchor', 'end').attr('font-size', 12.5);
          powLabel(lab, t);
        }
      });

      // titles and labels
      g.append('text').attr('x', (AX_LEFT + AX_RIGHT) / 2).attr('y', p.top - 8)
        .attr('text-anchor', 'middle').attr('font-size', 27).text(p.name);
      g.append('text').attr('x', 1230).attr('y', bottom + 53.5)
        .attr('text-anchor', 'middle').attr('font-size', 24.5).text('Freq (hz)');
      g.append('text').attr('transform', `translate(242.7,${p.top + AX_H / 2}) rotate(-90)`)
        .attr('text-anchor', 'middle').attr('font-size', 24).text('m/rthz');

      // legend
      const legTop = p.top + 14.3;
      const leg = g.append('g');
      leg.append('rect').attr('x', 1739.5).attr('y', legTop).attr('width', 406).attr('height', 306).attr('rx', 5)
        .attr('fill', '#fff').attr('fill-opacity', 0.8).attr('stroke', '#cccccc').attr('stroke-width', 1.1);
      const names = [...channels.map(c => `${p.name}_${c}`), p.adeName];
      names.forEach((n, k) => {
        const cy = legTop + 22.3 + 42.9 * k;
        leg.append('line').attr('x1', 1749).attr('x2', 1808).attr('y1', cy).attr('y2', cy)
          .attr('stroke', k < 6 ? colors[k] : adeColor).attr('stroke-width', LINE_W);
        leg.append('text').attr('x', 1830).attr('y', cy + 10.3).attr('font-size', 27.5).text(n);
      });
    });

    // figure footnotes
    svg.append('text').attr('x', 1221.7).attr('y', 1520).attr('text-anchor', 'middle')
      .attr('font-size', 14.8).attr('font-weight', 'bold').text('calibration only >10hz');
    svg.append('text').attr('transform', 'translate(2294.3,802.5) rotate(-90)')
      .attr('text-anchor', 'middle').attr('font-size', 13.5).attr('font-weight', 'bold')
      .attr('textLength', 349).attr('lengthAdjust', 'spacingAndGlyphs')
      .text('/ligo/home/cheryl.vorvick/BSC_cps_spectra.py');
  }, []);

  return (
    <svg ref={svgRef} width={2400} height={1600}
      style={{ position: 'absolute', left: 0, top: 0, background: '#fff', display: 'block' }} />
  );
};

export default App;
